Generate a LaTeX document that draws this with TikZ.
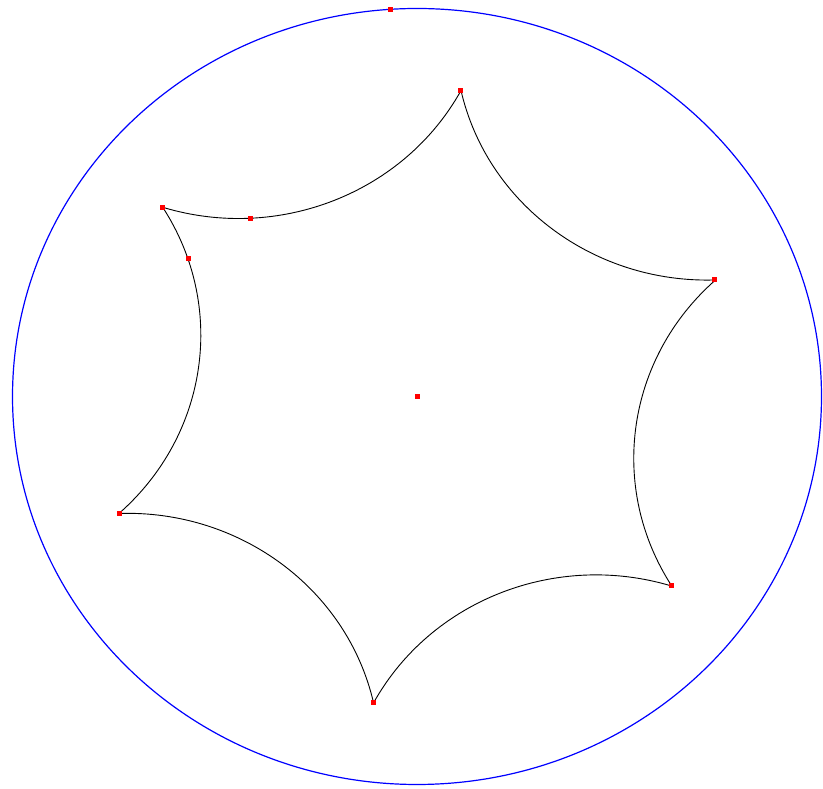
\documentclass[tikz,border=0pt]{standalone}
\usetikzlibrary{calc}
\begin{document}
\begin{tikzpicture}[x=1pt,y=1pt,
  dot/.style={rectangle,fill=red,inner sep=0pt,minimum size=5pt},
  rim/.style={draw=blue,line width=1.2pt},
  starline/.style={draw=black,line width=0.9pt,line join=miter}]
\useasboundingbox (0,0) rectangle (823,789);
\begin{scope}[shift={(417,392.5)},xscale=1.0425]
  \path[rim] (0,0) circle (388);
  \path[starline] (142.2:308.7)
    \foreach \b in {112.2,52.2,-7.8,-67.8,-127.8,-187.8} {
      arc[start angle=\b+140.3, end angle=\b+219.7, radius=241.9]
    } -- cycle;
  \node[dot] (O) at (0,0) {};
  \node[dot] (T) at (93.7:388) {};
  \foreach \a [count=\i] in {82.2,22.2,-37.8,-97.8,-157.8,142.2}
    \node[dot] (V\i) at (\a:308.7) {};
  \node[dot] (P) at ($(172.2:453.4)+(18.4:241.9)$) {};
  \node[dot] (Q) at ($(112.2:453.4)+(-87.3:241.9)$) {};
\end{scope}
\end{tikzpicture}
\end{document}
